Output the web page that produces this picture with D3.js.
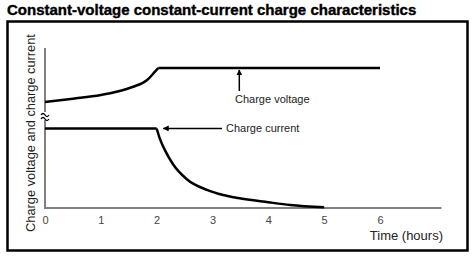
<!DOCTYPE html>
<html>
<head>
<meta charset="utf-8">
<script src="https://cdn.jsdelivr.net/npm/d3@7"></script>
<style>
  body { margin: 0; background: #fff; }
  svg { display: block; font-family: "Liberation Sans", Arial, sans-serif; }
</style>
</head>
<body>
<div id="chart"></div>
<script>
// chart values
const xTicks = [0, 1, 2, 3, 4, 5, 6];
// rising part of the voltage curve, then the constant-voltage part
const voltageRiseTimes  = [0, 0.5, 1, 1.3, 1.58, 1.83, 1.97, 2.03];
const voltageRiseValues = [66.3, 68.3, 70.6, 72.8, 75.8, 80, 85.2, 87.5];
const voltageFlatTimes  = [2.03, 6];
const voltageFlatValues = [87.5, 87.5];
// constant-current part, then the decay
const currentFlatTimes  = [0, 2.0];
const currentFlatValues = [49.7, 49.7];
const currentDecayTimes  = [2.0, 2.06, 2.15, 2.29, 2.54, 2.9, 3.19, 3.46, 4.0, 4.39, 5.0];
const currentDecayValues = [49.7, 43, 36, 27.5, 18, 11.3, 8.1, 6.2, 3.6, 1.9, 0.4];
const titleText = "Constant-voltage constant-current charge characteristics";
const yLabel = "Charge voltage and charge current";
const xLabel = "Time (hours)";

const width = 474, height = 258;
const svg = d3.select("#chart").append("svg")
    .attr("width", width)
    .attr("height", height);

svg.append("defs").append("marker")
    .attr("id", "head")
    .attr("viewBox", "0 0 10 10")
    .attr("refX", 9).attr("refY", 5)
    .attr("markerWidth", 6).attr("markerHeight", 6)
    .attr("markerUnits", "userSpaceOnUse")
    .attr("orient", "auto")
  .append("path")
    .attr("d", "M0,0 L10,5 L0,10 Z")
    .attr("fill", "#000");

// title + frame
svg.append("text")
    .attr("x", 7).attr("y", 15)
    .attr("font-size", 15).attr("font-weight", "bold")
    .attr("stroke", "#000").attr("stroke-width", 0.4)
    .text(titleText);

svg.append("rect")
    .attr("x", 7.5).attr("y", 21.5)
    .attr("width", 460).attr("height", 229)
    .attr("fill", "none").attr("stroke", "#000").attr("stroke-width", 2.5);

let x = d3.scaleLinear().domain([0, 6]).range([45, 380]);
let y = d3.scaleLinear().domain([0, 100]).range([208, 48]);

// axes (plain gray lines, no tick marks)
let xAxis = d3.axisBottom(x).tickValues(xTicks).tickSize(0).tickPadding(8).tickFormat(d3.format("d"));
let gx = svg.append("g").attr("transform", `translate(0, ${y(0)})`).call(xAxis);
gx.select(".domain").remove();
gx.selectAll("text").attr("font-size", 11).attr("fill", "#444").attr("font-family", "Liberation Sans, Arial, sans-serif");

svg.append("line")
    .attr("x1", x(0) - 1).attr("x2", x(7.1))
    .attr("y1", y(0)).attr("y2", y(0))
    .attr("stroke", "#808080").attr("stroke-width", 2);
svg.append("line")
    .attr("x1", x(0)).attr("x2", x(0))
    .attr("y1", y(0)).attr("y2", y(100))
    .attr("stroke", "#808080").attr("stroke-width", 2);

// axis break mark
let bk = svg.append("g").attr("transform", `translate(${x(0)}, ${y(57.5)})`);
bk.append("rect").attr("x", -3).attr("y", -4).attr("width", 6).attr("height", 8).attr("fill", "#fff");
[-2, 2].forEach(dy => {
    bk.append("path")
        .attr("d", `M-4,${dy + 1} q2,-3 4,0 t4,0`)
        .attr("fill", "none").attr("stroke", "#000").attr("stroke-width", 1.3);
});

// curves
let line = d3.line().curve(d3.curveMonotoneX);
let lin = d3.line();
function drawCurve(times, values, gen) {
    svg.append("path")
        .datum(times.map((t, i) => [x(t), y(values[i])]))
        .attr("d", gen)
        .attr("fill", "none").attr("stroke", "#000").attr("stroke-width", 2.5)
        .attr("stroke-linejoin", "round");
}
drawCurve(voltageRiseTimes, voltageRiseValues, line);
drawCurve(voltageFlatTimes, voltageFlatValues, lin);
drawCurve(currentFlatTimes, currentFlatValues, lin);
drawCurve(currentDecayTimes, currentDecayValues, line);

// annotations
svg.append("line")
    .attr("x1", x(3.48)).attr("x2", x(3.48))
    .attr("y1", 91).attr("y2", 70)
    .attr("stroke", "#000").attr("stroke-width", 1.5)
    .attr("marker-end", "url(#head)");
svg.append("text")
    .attr("x", 235).attr("y", 103)
    .attr("font-size", 11).attr("fill", "#222")
    .text("Charge voltage");

svg.append("line")
    .attr("x1", 222).attr("x2", x(2.12))
    .attr("y1", y(49.7)).attr("y2", y(49.7))
    .attr("stroke", "#000").attr("stroke-width", 1.5)
    .attr("marker-end", "url(#head)");
svg.append("text")
    .attr("x", 226).attr("y", 132)
    .attr("font-size", 11).attr("fill", "#222")
    .text("Charge current");

// axis titles
svg.append("text")
    .attr("x", 443).attr("y", 240)
    .attr("text-anchor", "end")
    .attr("font-size", 13).attr("fill", "#222")
    .text(xLabel);
svg.append("text")
    .attr("transform", "translate(35, 133) rotate(-90)")
    .attr("text-anchor", "middle")
    .attr("font-size", 12.8).attr("fill", "#222")
    .text(yLabel);
</script>
</body>
</html>
